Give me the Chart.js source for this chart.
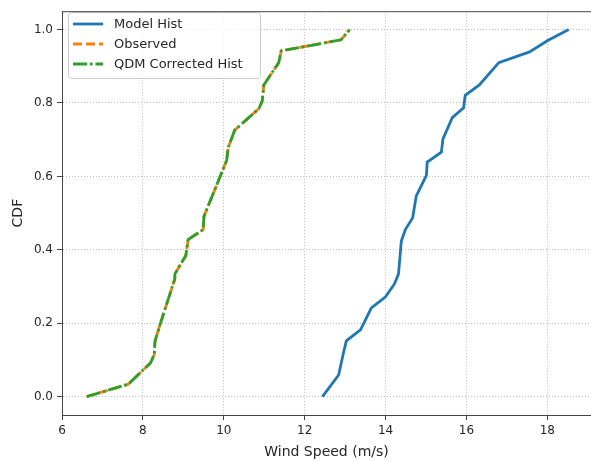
<!DOCTYPE html>
<html>
<head>
<meta charset="utf-8">
<script src="https://cdn.jsdelivr.net/npm/chart.js@4"></script>
<style>
  html, body { margin: 0; padding: 0; background: #fff; }
  #wrap { width: 591px; height: 461px; }
</style>
</head>
<body>
<div id="wrap"><canvas id="cdfChart" width="591" height="461"></canvas></div>
<script>
// Model Hist CDF (wind speed, cumulative probability)
const modelX = [12.44, 12.84, 12.95, 13.03, 13.38, 13.65, 14.00, 14.22, 14.32, 14.39, 14.49, 14.67, 14.76, 15.01, 15.03, 15.38, 15.42, 15.65, 15.93, 15.97, 16.32, 16.80, 17.56, 18.01, 18.53];
const modelY = [0.000, 0.059, 0.115, 0.152, 0.182, 0.242, 0.272, 0.307, 0.334, 0.424, 0.455, 0.487, 0.547, 0.603, 0.639, 0.666, 0.702, 0.760, 0.787, 0.821, 0.849, 0.910, 0.939, 0.970, 1.000];

// Observed CDF
const obsX = [6.61, 7.64, 8.19, 8.28, 8.30, 8.42, 8.79, 8.79, 9.06, 9.12, 9.49, 9.51, 9.98, 10.07, 10.11, 10.27, 10.87, 10.95, 10.99, 11.36, 11.42, 12.90, 13.11];
const obsY = [0.000, 0.034, 0.092, 0.115, 0.151, 0.195, 0.321, 0.334, 0.384, 0.428, 0.455, 0.491, 0.619, 0.643, 0.679, 0.726, 0.785, 0.805, 0.849, 0.910, 0.942, 0.972, 1.000];

// QDM corrected hist sits right on top of the observed curve
const qdmX = obsX.slice();
const qdmY = obsY.slice();

const xTicks = [6, 8, 10, 12, 14, 16, 18];
const yTicks = [0.0, 0.2, 0.4, 0.6, 0.8, 1.0];

function toPoints(xs, ys) {
    return xs.map((x, i) => ({ x: x, y: ys[i] }));
}

const FONT = 'DejaVu Sans';

// draws the top spine like matplotlib
const framePlugin = {
    id: 'frame',
    afterDraw(chart) {
        const { ctx, chartArea: a } = chart;
        ctx.save();
        ctx.strokeStyle = '#444';
        ctx.lineWidth = 1;
        ctx.beginPath();
        ctx.moveTo(a.left, a.top + 0.5);
        ctx.lineTo(a.right, a.top + 0.5);
        ctx.stroke();
        ctx.restore();
    }
};

// legend box inside the plot, upper left
const innerLegend = {
    id: 'innerLegend',
    afterDatasetsDraw(chart) {
        const ctx = chart.ctx;
        const x0 = 68, y0 = 12, w = 192, h = 66, r = 3;
        ctx.save();
        ctx.fillStyle = 'rgba(255,255,255,0.85)';
        ctx.strokeStyle = '#cccccc';
        ctx.lineWidth = 1;
        ctx.beginPath();
        ctx.roundRect(x0 + 0.5, y0 + 0.5, w, h, r);
        ctx.fill();
        ctx.stroke();

        chart.data.datasets.forEach((ds, i) => {
            const y = 24 + i * 20;
            ctx.strokeStyle = ds.borderColor;
            ctx.lineWidth = ds.borderWidth;
            ctx.setLineDash(ds.borderDash || []);
            ctx.beginPath();
            ctx.moveTo(73, y);
            ctx.lineTo(103, y);
            ctx.stroke();
            ctx.setLineDash([]);
            ctx.fillStyle = '#262626';
            ctx.font = '13px "' + FONT + '"';
            ctx.textBaseline = 'middle';
            ctx.fillText(ds.label, 114, y + 1);
        });
        ctx.restore();
    }
};

const ctx = document.getElementById('cdfChart').getContext('2d');
new Chart(ctx, {
    type: 'scatter',
    data: {
        datasets: [
            {
                label: 'Model Hist',
                data: toPoints(modelX, modelY),
                showLine: true,
                borderColor: '#1f77b4',
                borderWidth: 2.8,
                pointRadius: 0,
                tension: 0,
                order: 2
            },
            {
                label: 'Observed',
                data: toPoints(obsX, obsY),
                showLine: true,
                borderColor: '#ff7f0e',
                borderWidth: 2.8,
                borderDash: [9, 4],
                pointRadius: 0,
                tension: 0,
                order: 1
            },
            {
                // drawn last so it sits on top, like in matplotlib
                label: 'QDM Corrected Hist',
                data: toPoints(qdmX, qdmY),
                showLine: true,
                borderColor: '#2ca02c',
                borderWidth: 2.8,
                borderDash: [14, 3, 2.5, 3],
                pointRadius: 0,
                tension: 0,
                order: 0
            }
        ]
    },
    options: {
        responsive: false,
        animation: false,
        layout: { padding: { top: 5, right: 0, left: 0, bottom: 0 } },
        plugins: {
            legend: { display: false },
            tooltip: { enabled: false }
        },
        scales: {
            x: {
                type: 'linear',
                min: 6,
                max: 19.08,
                afterFit: function(scale) { scale.height = 46; },
                afterBuildTicks: function(scale) {
                    scale.ticks = xTicks.map(v => ({ value: v }));
                },
                ticks: {
                    includeBounds: false,
                    padding: 4,
                    color: '#262626',
                    font: { family: FONT, size: 12 },
                    maxRotation: 0,
                    callback: v => String(v)
                },
                grid: {
                    color: '#bdbdbd',
                    tickColor: '#444',
                    tickLength: 5,
                    tickBorderDash: []
                },
                border: { display: true, color: '#444', width: 1, dash: [1, 2] },
                title: {
                    display: true,
                    text: 'Wind Speed (m/s)',
                    color: '#262626',
                    font: { family: FONT, size: 14 },
                    padding: { top: 4, bottom: 0 }
                }
            },
            y: {
                type: 'linear',
                min: -0.05,
                max: 1.05,
                afterFit: function(scale) { scale.width = 62; },
                afterBuildTicks: function(scale) {
                    scale.ticks = yTicks.map(v => ({ value: v }));
                },
                ticks: {
                    includeBounds: false,
                    padding: 4,
                    color: '#262626',
                    font: { family: FONT, size: 12 },
                    callback: v => Number(v).toFixed(1)
                },
                grid: {
                    color: '#bdbdbd',
                    tickColor: '#444',
                    tickLength: 5,
                    tickBorderDash: []
                },
                border: { display: true, color: '#444', width: 1, dash: [1, 2] },
                title: {
                    display: true,
                    text: 'CDF',
                    color: '#262626',
                    font: { family: FONT, size: 14 },
                    padding: { top: 10, bottom: 0 }
                }
            }
        }
    },
    plugins: [framePlugin, innerLegend]
});
</script>
</body>
</html>
